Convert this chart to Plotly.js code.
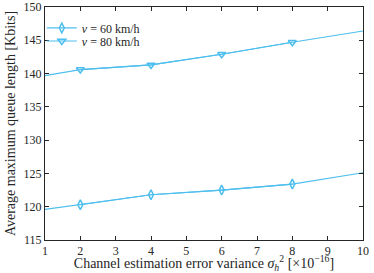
<!DOCTYPE html>
<html><head><meta charset="utf-8">
<script src="https://cdn.plot.ly/plotly-3.0.1.min.js"></script>
<style>html,body{margin:0;padding:0;background:#fff}</style>
</head><body><div id="chart" style="width:374px;height:273px"></div>
<script>
const xAll = [1, 2, 4, 6, 8, 10];
const v60 = [119.6, 120.3, 121.8, 122.5, 123.4, 125.1];
const v80 = [139.7, 140.6, 141.3, 142.9, 144.7, 146.4];
const markerIdx = [1, 2, 3, 4];
const xTicks = [1, 2, 3, 4, 5, 6, 7, 8, 9, 10];
const yTicks = [115, 120, 125, 130, 135, 140, 145, 150];
const names = ['<i>v</i> = 60 km/h', '<i>v</i> = 80 km/h'];

const col = '#4DBEEE';
const FONT = 'Liberation Serif, serif';
const pick = (a) => markerIdx.map(i => a[i]);
const traces = [
  {x: xAll, y: v60, mode: 'lines', line: {color: col, width: 1.2}, showlegend: false, hoverinfo: 'skip'},
  {x: xAll, y: v80, mode: 'lines', line: {color: col, width: 1.2}, showlegend: false, hoverinfo: 'skip'},
  {x: pick(xAll), y: pick(v60), mode: 'lines+markers', name: names[0], legend: 'legend',
   line: {color: col, width: 1.2},
   marker: {symbol: 'diamond-tall-open', size: 7, color: col, line: {width: 1.5, color: col}}},
  {x: pick(xAll), y: pick(v80), mode: 'lines+markers', name: names[1], legend: 'legend2',
   line: {color: col, width: 1.2},
   marker: {symbol: 'triangle-down-open', size: 7, color: col, line: {width: 1.5, color: col}}}
];

const axBase = {
  showgrid: false, zeroline: false, showline: true, linecolor: '#262626', linewidth: 1,
  mirror: 'ticks', ticks: 'inside', ticklen: 4, tickcolor: '#262626', tickwidth: 1,
  tickfont: {family: FONT, size: 12, color: '#262626'}
};
const legBase = {
  x: -0.01, xanchor: 'left', yanchor: 'middle', bgcolor: 'rgba(255,255,255,0)',
  font: {family: FONT, size: 12, color: '#262626'}, tracegroupgap: 0
};
const layout = {
  width: 374, height: 273,
  margin: {l: 45, r: 11, t: 7, b: 33},
  paper_bgcolor: '#fff', plot_bgcolor: '#fff',
  font: {family: FONT, color: '#262626'},
  xaxis: Object.assign({}, axBase, {
    range: [1, 10], tickmode: 'array', tickvals: xTicks, ticktext: xTicks.map(String),
    title: {text: 'Channel estimation error variance <i>σ</i><sub><i>h</i></sub><sup>2</sup> [×10<sup>−16</sup>]',
      font: {size: 14, family: FONT, color: '#262626'}, standoff: 2}
  }),
  yaxis: Object.assign({}, axBase, {
    range: [115, 150], tickmode: 'array', tickvals: yTicks, ticktext: yTicks.map(String),
    title: {text: 'Average maximum queue length [Kbits]',
      font: {size: 14, family: FONT, color: '#262626'}, standoff: 4}
  }),
  legend: Object.assign({}, legBase, {y: 0.91}),
  legend2: Object.assign({}, legBase, {y: 0.854}),
  showlegend: true
};
Plotly.newPlot('chart', traces, layout, {staticPlot: true, displayModeBar: false});
</script></body></html>
